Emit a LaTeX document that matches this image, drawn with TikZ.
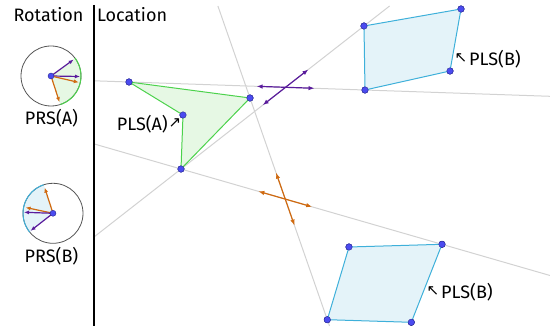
\documentclass[tikz,border=0pt]{standalone}
\usepackage{fontspec}
\setmainfont{Fira Sans}
\newfontfamily\arrowfont{DejaVu Sans}
\usetikzlibrary{arrows.meta,calc}

\definecolor{guidegray}{HTML}{D2D2D2}
\definecolor{plsgreen}{HTML}{4CD24C}
\definecolor{plsgreenfill}{HTML}{E6F8E4}
\definecolor{plsblue}{HTML}{3EB0DA}
\definecolor{plsbluefill}{HTML}{E4F3F9}
\definecolor{dotblue}{HTML}{4B4BF0}
\definecolor{dotedge}{HTML}{2A2A90}
\definecolor{rotpurple}{HTML}{5A1C9C}
\definecolor{rotorange}{HTML}{D06A10}
\definecolor{ringgray}{HTML}{555555}

\begin{document}
\begin{tikzpicture}[x=1pt,y=-1pt]
    \tikzset{
        vtx/.style={circle,fill=dotblue,draw=dotedge,line width=0.4pt,inner sep=0pt,minimum size=6.5pt},
        guide/.style={draw=guidegray,line width=1pt},
        lbl/.style={font=\fontsize{18}{20}\selectfont,inner sep=0pt},
        pointer/.style={font=\arrowfont\fontsize{15}{16}\selectfont,inner sep=0pt},
        dbl/.style={{Latex[length=6pt,width=4.5pt]}-{Latex[length=6pt,width=4.5pt]},line width=1.2pt},
        spoke/.style={-{Latex[length=5pt,width=4pt]},line width=1.2pt}
    }
    \useasboundingbox (0,0) rectangle (550,328);

    % vertices of the polygons
    \node[vtx] (a1) at (129,82) {};
    \node[vtx] (a2) at (250,98) {};
    \node[vtx] (a3) at (183,115) {};
    \node[vtx] (a4) at (181,169) {};
    \node[vtx] (b1a) at (364,26) {};
    \node[vtx] (b1b) at (461,9) {};
    \node[vtx] (b1c) at (450,71) {};
    \node[vtx] (b1d) at (365,90) {};
    \node[vtx] (bb1) at (349,247) {};
    \node[vtx] (bb2) at (442,244.3) {};
    \node[vtx] (bb3) at (411.3,322.3) {};
    \node[vtx] (bb4) at (327.3,319.7) {};

    % ends of the guide lines
    \coordinate (l1w) at (94,80.8);
    \coordinate (l1e) at (550,96.3);
    \coordinate (l2w) at (94,143.9);
    \coordinate (l2e) at (550,275.5);
    \coordinate (l3w) at (94,237);
    \coordinate (l3n) at (389.6,6);
    \coordinate (l4n) at (217.9,6);
    \coordinate (l4s) at (329.5,326);
    \coordinate (xp) at (intersection of a1--b1d and a4--b1a);
    \coordinate (xo) at (intersection of a4--bb2 and a2--bb4);

    \fill[plsgreenfill] (a1.center) -- (a2.center) -- (a4.center) -- (a3.center) -- cycle;
    \fill[plsbluefill] (b1a.center) -- (b1b.center) -- (b1c.center) -- (b1d.center) -- cycle;
    \fill[plsbluefill] (bb1.center) -- (bb2.center) -- (bb3.center) -- (bb4.center) -- cycle;

    \draw[guide] (l1w) -- (l1e);
    \draw[guide] (l2w) -- (l2e);
    \draw[guide] (l3w) -- (l3n);
    \draw[guide] (l4n) -- (l4s);

    \draw[plsgreen,line width=1pt] (a1.center) -- (a2.center) -- (a4.center) -- (a3.center) -- cycle;
    \draw[plsblue,line width=1pt] (b1a.center) -- (b1b.center) -- (b1c.center) -- (b1d.center) -- cycle;
    \draw[plsblue,line width=1pt] (bb1.center) -- (bb2.center) -- (bb3.center) -- (bb4.center) -- cycle;
    \foreach \v in {a1,a2,a3,a4,b1a,b1b,b1c,b1d,bb1,bb2,bb3,bb4}
        \node[vtx] at (\v) {};

    % moves at the crossings
    \draw[dbl,rotpurple] ($(xp)!29pt!(a1.center)$) -- ($(xp)!29pt!(b1d.center)$);
    \draw[dbl,rotpurple] ($(xp)!29pt!(a4.center)$) -- ($(xp)!29pt!(b1a.center)$);
    \draw[dbl,rotorange] ($(xo)!28pt!(a4.center)$) -- ($(xo)!28pt!(bb2.center)$);
    \draw[dbl,rotorange] ($(xo)!28pt!(a2.center)$) -- ($(xo)!28pt!(bb4.center)$);

    % divider
    \draw[line width=2.4pt] (94,5) -- (94,326);
    \node[lbl] (rot) at (48.5,15) {Rotation};
    \node[lbl,anchor=west] (loc) at (97,15) {Location};

    % rotation A
    \coordinate (ca) at (51,76);
    \fill[plsgreenfill] (ca) -- ++(-37:30) arc[start angle=-37,end angle=72,radius=30] -- cycle;
    \draw[ringgray,line width=0.8pt] (ca) circle[radius=30];
    \draw[plsgreen,line width=1pt] (ca) ++(-37:30) arc[start angle=-37,end angle=72,radius=30];
    \draw[spoke,rotpurple] (ca) -- ++(-36:28);
    \draw[spoke,rotpurple] (ca) -- ++(1:29);
    \draw[spoke,rotorange] (ca) -- ++(13:28.5);
    \draw[spoke,rotorange] (ca) -- ++(72:27.5);
    \node[vtx,minimum size=6pt] (pa) at (ca) {};
    \node[lbl] (prsa) at (51.5,118.5) {PRS(A)};

    % rotation B
    \coordinate (cb) at (53,213.3);
    \fill[plsbluefill] (cb) -- ++(-219:30) arc[start angle=-219,end angle=-108,radius=30] -- cycle;
    \draw[ringgray,line width=0.8pt] (cb) circle[radius=30];
    \draw[plsblue,line width=1pt] (cb) ++(-219:30) arc[start angle=-219,end angle=-108,radius=30];
    \draw[spoke,rotorange] (cb) -- ++(-108:27);
    \draw[spoke,rotorange] (cb) -- ++(-168:28);
    \draw[spoke,rotpurple] (cb) -- ++(-178:29);
    \draw[spoke,rotpurple] (cb) -- ++(-218:28.5);
    \node[vtx,minimum size=6pt] (pb) at (cb) {};
    \node[lbl] (prsb) at (51.5,256.7) {PRS(B)};

    % polygon labels
    \node[lbl,anchor=east] (plsa) at (168,124) {PLS(A)};
    \node[pointer] (pta) at (175,123) {↗};
    \node[pointer] (ptb) at (461,58) {↖};
    \node[lbl,anchor=west] (plsb) at (469,59) {PLS(B)};
    \node[pointer] (ptc) at (433,291) {↖};
    \node[lbl,anchor=west] (plsc) at (441,292) {PLS(B)};
\end{tikzpicture}
\end{document}
